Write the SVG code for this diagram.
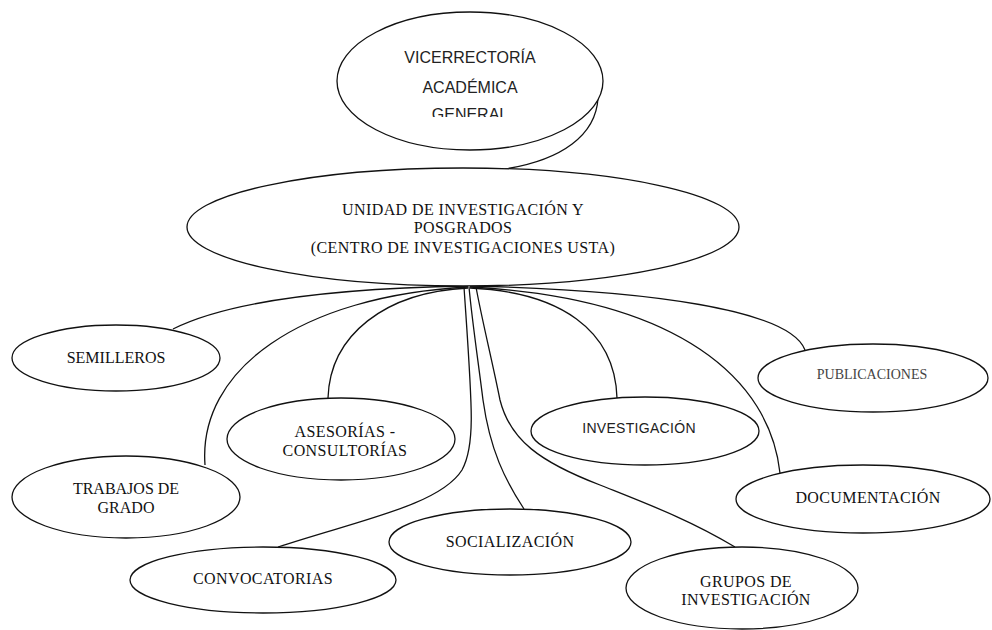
<svg xmlns="http://www.w3.org/2000/svg" width="992" height="630" viewBox="0 0 992 630">
  <style>
    .node { fill: #fff; stroke: #111; stroke-width: 1.3; }
    .edge { fill: none; stroke: #111; stroke-width: 1.3; }
    .serif { font-family: "Liberation Serif", "Times New Roman", serif; font-size: 16px; fill: #111; text-anchor: middle; }
    .sans { font-family: "Liberation Sans", Arial, sans-serif; font-size: 16px; fill: #222; text-anchor: middle; }
  </style>
  <defs>
    <clipPath id="clip-top">
      <rect x="330" y="0" width="290" height="117"/>
    </clipPath>
  </defs>
  <rect width="992" height="630" fill="#fff"/>

  <!-- connectors -->
  <g id="connectors">
    <path class="edge" d="M598,98 C596,135 562,160 505,169"/>
    <path class="edge" d="M173,329 C235,298 350,288 468,286"/>
    <path class="edge" d="M205,465 C198,370 300,296 468,287"/>
    <path class="edge" d="M328,398 C330,335 385,292 468,288"/>
    <path class="edge" d="M278,547 C360,520 440,505 462,470 C476,445 472,405 464,287"/>
    <path class="edge" d="M524,509 C505,480 490,450 483,400 C478,360 472,320 469,287"/>
    <path class="edge" d="M735,547 C690,520 650,505 600,485 C540,462 510,440 500,400 C492,360 482,320 476,287"/>
    <path class="edge" d="M617,398 C615,330 560,292 470,288"/>
    <path class="edge" d="M780,473 C770,380 680,298 470,287"/>
    <path class="edge" d="M805,350 C790,310 650,290 470,286"/>
  </g>

  <g id="vicerrectoria">
    <ellipse class="node" cx="470" cy="81" rx="133" ry="69"/>
    <text class="sans" x="470" y="63">VICERRECTORÍA</text>
    <text class="sans" x="470" y="93">ACADÉMICA</text>
    <text class="sans" x="470" y="120" clip-path="url(#clip-top)">GENERAL</text>
  </g>

  <g id="unidad">
    <ellipse class="node" cx="463" cy="227" rx="276" ry="59"/>
    <text class="serif" x="463" y="215" letter-spacing="0.4">UNIDAD DE INVESTIGACIÓN Y</text>
    <text class="serif" x="463" y="233" letter-spacing="0.4">POSGRADOS</text>
    <text class="serif" x="463" y="253" letter-spacing="0.4">(CENTRO DE INVESTIGACIONES USTA)</text>
  </g>

  <g id="semilleros">
    <ellipse class="node" cx="116" cy="358" rx="104" ry="33"/>
    <text class="serif" x="116" y="363">SEMILLEROS</text>
  </g>

  <g id="asesorias">
    <ellipse class="node" cx="341" cy="439" rx="114" ry="41"/>
    <text class="serif" x="345" y="437" letter-spacing="0.4">ASESORÍAS -</text>
    <text class="serif" x="345" y="456" letter-spacing="0.4">CONSULTORÍAS</text>
  </g>

  <g id="trabajos">
    <ellipse class="node" cx="126" cy="497" rx="114" ry="41"/>
    <text class="serif" x="126" y="494">TRABAJOS DE</text>
    <text class="serif" x="126" y="513">GRADO</text>
  </g>

  <g id="convocatorias">
    <ellipse class="node" cx="263" cy="580" rx="133" ry="33"/>
    <text class="serif" x="263" y="584" letter-spacing="0.4">CONVOCATORIAS</text>
  </g>

  <g id="socializacion">
    <ellipse class="node" cx="510" cy="542" rx="121" ry="33"/>
    <text class="serif" x="510" y="547" letter-spacing="0.4">SOCIALIZACIÓN</text>
  </g>

  <g id="grupos">
    <ellipse class="node" cx="742" cy="588" rx="116" ry="41"/>
    <text class="serif" x="746" y="587" letter-spacing="0.4">GRUPOS DE</text>
    <text class="serif" x="746" y="605" letter-spacing="0.4">INVESTIGACIÓN</text>
  </g>

  <g id="investigacion">
    <ellipse class="node" cx="645" cy="431" rx="114" ry="34"/>
    <text class="sans" x="639" y="433" style="font-size:14px" letter-spacing="0.3">INVESTIGACIÓN</text>
  </g>

  <g id="publicaciones">
    <ellipse class="node" cx="873" cy="378" rx="115" ry="34"/>
    <text class="serif" x="872" y="379" style="font-size:14px;fill:#444">PUBLICACIONES</text>
  </g>

  <g id="documentacion">
    <ellipse class="node" cx="863" cy="499" rx="127" ry="34"/>
    <text class="serif" x="868" y="503" letter-spacing="0.4">DOCUMENTACIÓN</text>
  </g>
</svg>
